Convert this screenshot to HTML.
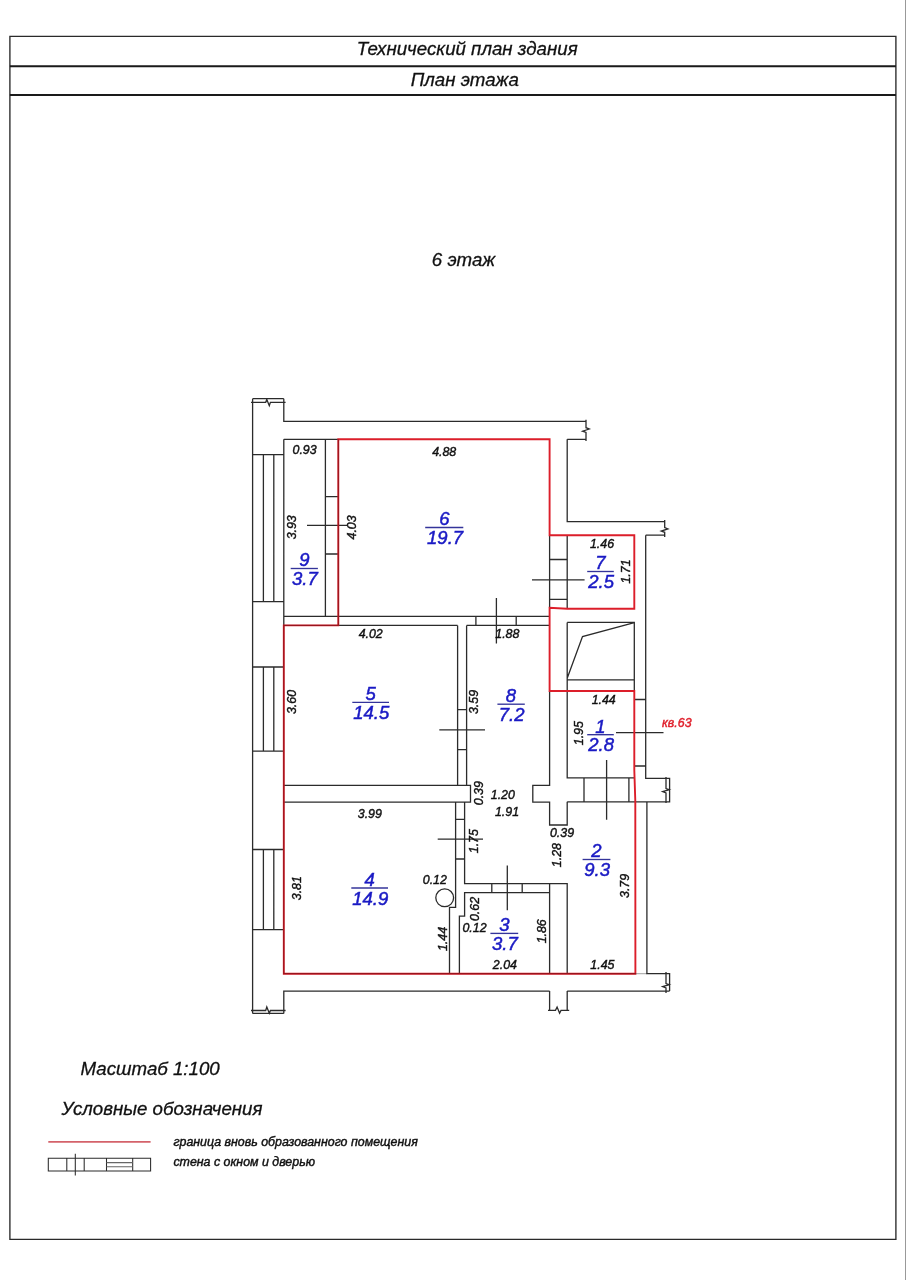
<!DOCTYPE html>
<html lang="ru"><head><meta charset="utf-8"><title>Технический план здания</title>
<style>html,body{margin:0;padding:0;background:#fff}body{width:906px;height:1280px;overflow:hidden}svg{display:block;will-change:transform}text{font-family:"Liberation Sans",sans-serif;font-style:italic}.t{font-size:18.7px;fill:#111;stroke:#111;stroke-width:.3px}.d{font-size:12.4px;fill:#111;stroke:#111;stroke-width:.42px}.l{font-size:18.5px;fill:#1a1ac4;stroke:#1a1ac4;stroke-width:.5px}.k{fill:none;stroke:#2b2b2b;stroke-width:1.3}.r{fill:none;stroke:#dc1e2a;stroke-width:1.9;stroke-linejoin:miter}</style></head><body>
<svg width="906" height="1280" viewBox="0 0 906 1280">
<rect width="906" height="1280" fill="#fff"/>
<line x1="905.5" y1="0" x2="905.5" y2="1280" stroke="#999" stroke-width="1"/>
<g fill="none" stroke="#2a2a2a">
<path d="M9.9 36.4 H895.9 V1239.3 H9.9 Z" stroke-width="1.35"/>
<path d="M9.9 66.3 H895.9 M9.9 94.9 H895.9" stroke="#1a1a1a" stroke-width="2"/>
</g>
<text class="t" x="467.2" y="55.4" text-anchor="middle">Технический план здания</text>
<text class="t" x="464.8" y="86.4" text-anchor="middle">План этажа</text>
<text class="t" x="463.5" y="266.3" text-anchor="middle">6 этаж</text>
<g class="k">
<path d="M252.6 398.7 V1013.4 M252.6 398.7 H283.8 M252.6 1013.4 H283.8 M283.8 398.7 V421.3 H586 M283.8 1013.4 V991.1 H549.6 M251 402.3 H265.7 L266.8 399.5 L269.3 405.7 L270.4 402.3 H285.6 M251 1010.5 H265.7 L266.8 1007 L269.3 1013.3 L270.4 1010.5 H285.6 M283.8 439.3 V625.4 M283.8 439.3 H338.3 M252.6 454.6 H283.8 M252.6 601.7 H283.8 M263.4 454.6 V601.7 M273.8 454.6 V601.7 M252.6 667.0 H283.8 M252.6 751.2 H283.8 M263.4 667.0 V751.2 M273.8 667.0 V751.2 M252.6 849.5 H283.8 M252.6 929.7 H283.8 M263.4 849.5 V929.7 M273.8 849.5 V929.7 M325.4 439.3 V616.3 M325.4 496.7 H338.3 M325.4 554 H338.3 M283.8 616.3 H549.6 M338.3 625.4 H457.6 M466.6 625.4 H549.6 M475.9 616.3 V625.4 M516.2 616.3 V625.4 M457.6 625.4 V785.4 M466.6 625.4 V785.4 M457.6 709.7 H466.6 M457.6 749.7 H466.6 M283.8 785.4 H470.5 V802.2 H283.8 M455.6 802.2 V907.3 H449.5 V973.7 M464.6 802.2 V883.6 H567.2 V973.7 M455.6 819.3 H464.6 M455.6 859 H464.6 M549.6 973.7 V883.6 M549.6 892.7 H464.6 V916.2 H459.4 V973.7 M491.8 883.6 V892.7 M522.2 883.6 V892.7 M567.2 439.3 H586 M567.2 439.3 V521.6 H664.7 M586 419.7 V427.7 L589.2 429 L582.6 431.2 L586 432.4 V440.9 M645.7 535.2 H664.7 M664.7 520 V527.6 L667.9 528.9 L661.3 531.1 L664.7 532.3 V536.9 M645.7 535.2 V778.3 H669.6 V801.8 H567.2 M666 777 V788.5 L669.3 789.6 L662.6 791.6 L666 793 V803 M549.6 535.3 V608.5 M567.2 535.3 V608.5 M549.6 559.5 H567.2 M549.6 599.3 H567.2 M567.2 622.4 H634.3 V691 M567.2 679.9 H634.3 M567.2 622.4 V777.9 H634.3 M567.2 678.2 L582.5 636.5 L634.3 622.7 M634.3 699.5 H645.7 M634.3 766 H645.7 M584 777.9 V801.8 M628.9 777.9 V801.8 M549.6 691 V785.4 H532.8 V802.2 H549.6 V825 H567.2 V801.8 M646.9 801.8 V973.7 H669.6 V991.1 M567.2 991.1 H669.6 M666 972 V983.5 L669.3 984.6 L662.6 986.6 L666 988 V993 M549.6 991.1 V1010.4 M567.2 991.1 V1010.4 M548 1010.4 H555.5 L557.1 1007 L559.6 1013.2 L561 1010.4 H569.2 M307 525.4 H347 M532 579.8 H584.6 M496.4 598 V643.6 M439.3 729.8 H485 M616 732.7 H663.5 M606.6 760 V819.8 M437.7 839.1 H483 M507.3 865.6 V910.3"/>
<circle cx="444.7" cy="897.8" r="8.9"/>
</g>
<path class="r" d="M549.6 439.3 V535.3 H634.3 V608.7 H567.2 L549.6 607.8 V691 H634.3 V770 L635.3 801 L635.4 973.7 H283.8 V625.4 H338.3 V439.3 Z"/>
<path d="M338.3 439.3 V625.4 H283.8 V973.7 H646.9" fill="none" stroke="#000" stroke-width="1.2" opacity=".3"/>
<g text-anchor="middle">
<text class="l" x="444.5" y="525.4">6</text>
<line x1="425.2" y1="527.5" x2="463.3" y2="527.5" stroke="#34349a" stroke-width="1.35"/>
<text class="l" x="445.1" y="544.0">19.7</text>
<text class="l" x="304.3" y="566.4">9</text>
<line x1="290.7" y1="568.5" x2="317.9" y2="568.5" stroke="#34349a" stroke-width="1.35"/>
<text class="l" x="304.9" y="585.0">3.7</text>
<text class="l" x="370.6" y="700.2">5</text>
<line x1="352.3" y1="702.3" x2="389.0" y2="702.3" stroke="#34349a" stroke-width="1.35"/>
<text class="l" x="371.2" y="718.8">14.5</text>
<text class="l" x="369.7" y="885.9">4</text>
<line x1="351.3" y1="888.0" x2="388.0" y2="888.0" stroke="#34349a" stroke-width="1.35"/>
<text class="l" x="370.3" y="904.5">14.9</text>
<text class="l" x="600.5" y="569.4">7</text>
<line x1="587.2" y1="571.5" x2="613.8" y2="571.5" stroke="#34349a" stroke-width="1.35"/>
<text class="l" x="601.1" y="588.0">2.5</text>
<text class="l" x="511.0" y="702.1">8</text>
<line x1="497.4" y1="704.2" x2="524.8" y2="704.2" stroke="#34349a" stroke-width="1.35"/>
<text class="l" x="511.6" y="720.7">7.2</text>
<text class="l" x="600.5" y="732.6">1</text>
<line x1="587.2" y1="734.7" x2="613.8" y2="734.7" stroke="#34349a" stroke-width="1.35"/>
<text class="l" x="601.1" y="751.2">2.8</text>
<text class="l" x="596.5" y="857.4">2</text>
<line x1="582.6" y1="859.5" x2="610.4" y2="859.5" stroke="#34349a" stroke-width="1.35"/>
<text class="l" x="597.1" y="876.0">9.3</text>
<text class="l" x="504.3" y="931.3">3</text>
<line x1="490.4" y1="933.4" x2="518.2" y2="933.4" stroke="#34349a" stroke-width="1.35"/>
<text class="l" x="504.9" y="949.9">3.7</text>
<text class="d" x="304.6" y="454.0">0.93</text>
<text class="d" x="444.2" y="455.6">4.88</text>
<text class="d" x="602.0" y="548.0">1.46</text>
<text class="d" x="370.7" y="638.1">4.02</text>
<text class="d" x="507.3" y="638.3">1.88</text>
<text class="d" x="603.7" y="703.6">1.44</text>
<text class="d" x="369.8" y="818.0">3.99</text>
<text class="d" x="502.8" y="798.7">1.20</text>
<text class="d" x="507.0" y="816.2">1.91</text>
<text class="d" x="562.0" y="836.7">0.39</text>
<text class="d" x="434.8" y="883.8">0.12</text>
<text class="d" x="474.5" y="932.4">0.12</text>
<text class="d" x="504.9" y="969.1">2.04</text>
<text class="d" x="602.4" y="969.1">1.45</text>
<text class="d" transform="translate(296.2 527.3) rotate(-90)">3.93</text>
<text class="d" transform="translate(355.6 527.4) rotate(-90)">4.03</text>
<text class="d" transform="translate(629.7 571.5) rotate(-90)">1.71</text>
<text class="d" transform="translate(296.2 702.0) rotate(-90)">3.60</text>
<text class="d" transform="translate(478.1 702.0) rotate(-90)">3.59</text>
<text class="d" transform="translate(583.2 733.2) rotate(-90)">1.95</text>
<text class="d" transform="translate(483.4 793.2) rotate(-90)">0.39</text>
<text class="d" transform="translate(477.9 841.2) rotate(-90)">1.75</text>
<text class="d" transform="translate(560.5 855.1) rotate(-90)">1.28</text>
<text class="d" transform="translate(629.3 885.9) rotate(-90)">3.79</text>
<text class="d" transform="translate(301.2 888.2) rotate(-90)">3.81</text>
<text class="d" transform="translate(478.9 909.0) rotate(-90)">0.62</text>
<text class="d" transform="translate(446.7 939.0) rotate(-90)">1.44</text>
<text class="d" transform="translate(546.0 931.3) rotate(-90)">1.86</text>
</g>
<text class="d" x="662" y="726.8" style="fill:#e0202c;stroke:#e0202c">кв.63</text>
<text class="t" x="80.5" y="1075.4">Масштаб 1:100</text>
<text class="t" x="61.4" y="1114.7">Условные обозначения</text>
<line x1="48.3" y1="1141.9" x2="150.6" y2="1141.9" stroke="#d4626a" stroke-width="1.8"/>
<g class="k" style="stroke-width:1.05"><path d="M48.3 1158.3 H150.6 V1171 H48.3 Z M66.8 1158.3 V1171 M84.2 1158.3 V1171 M75.3 1153.8 V1175.6 M106.5 1158.3 V1171 M132.7 1158.3 V1171"/><path d="M106.5 1162.6 H132.7 M106.5 1166.7 H132.7" stroke="#666"/></g>
<text class="d" x="173.4" y="1145.9">граница вновь образованного помещения</text>
<text class="d" x="173.4" y="1166.1">стена с окном и дверью</text>
</svg></body></html>
